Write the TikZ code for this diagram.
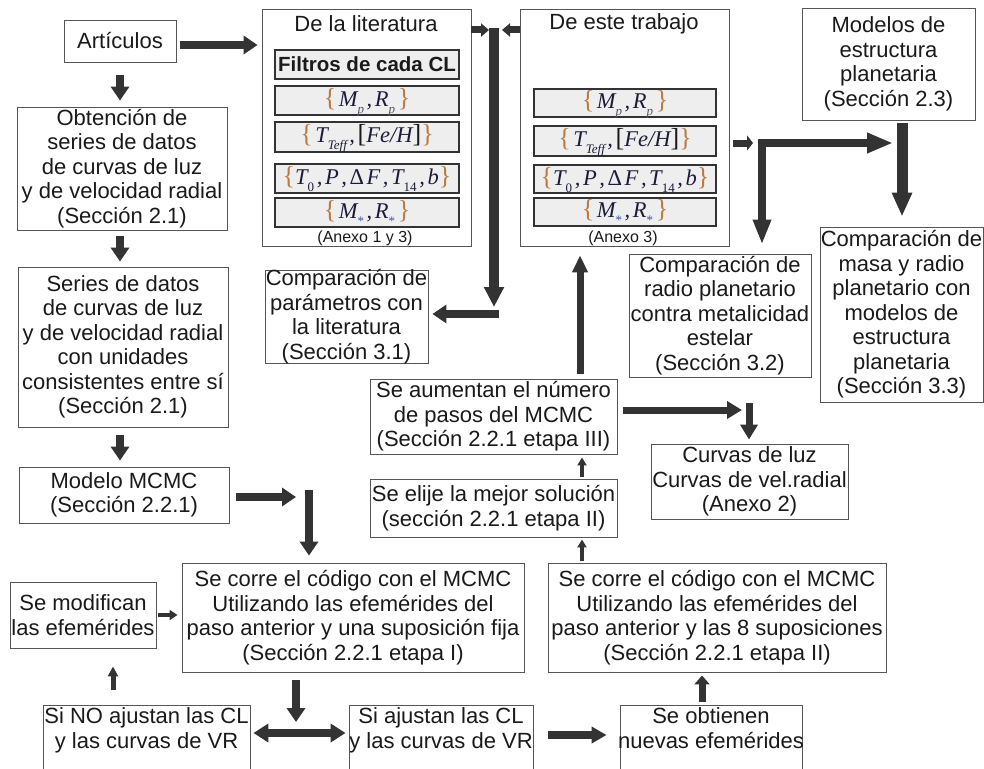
\documentclass[tikz,border=0pt]{standalone}
\usepackage{fontspec}
\setmainfont{Liberation Sans}
\newfontfamily\fser{Liberation Serif}
\usetikzlibrary{arrows.meta}
\definecolor{arrc}{HTML}{333333}
\definecolor{boxc}{HTML}{555555}
\definecolor{txtc}{HTML}{1A1A1A}
\definecolor{bracec}{HTML}{B97C40}
\definecolor{mathc}{HTML}{1C1C38}
\definecolor{subc}{HTML}{555566}
\definecolor{starc}{HTML}{3A55A0}
\definecolor{fillc}{HTML}{EEEEEE}
\newcommand\fl{\smash{\upshape\color{bracec}\fontsize{26}{26}\selectfont\{}}
\newcommand\frr{\smash{\upshape\color{bracec}\fontsize{26}{26}\selectfont\}}}
\newcommand\sqo{\smash{\upshape\color{txtc}\fontsize{26}{26}\selectfont[}}
\newcommand\sqc{\smash{\upshape\color{txtc}\fontsize{26}{26}\selectfont]}}
\newcommand\fsb[1]{\raisebox{-0.32em}[0pt][0pt]{\fontsize{13}{13}\selectfont #1}}
\newcommand\gp{\hspace{2.6pt}}
\newcommand\bx[6]{\node[box, minimum width={(#4)-(#2)}, minimum height={(#5)-(#3)}] (#1) at ({((#2)+(#4))/2},{((#3)+(#5))/2}) {};\node[txt] (#1t) at (#1.center) {#6};}
\newcommand\bxe[5]{\node[box, minimum width={(#4)-(#2)}, minimum height={(#5)-(#3)}] (#1) at ({((#2)+(#4))/2},{((#3)+(#5))/2}) {};}
\newcommand\fb[6]{\node[fbox, minimum width={(#4)-(#2)}, minimum height={(#5)-(#3)}] (#1) at ({((#2)+(#4))/2},{((#3)+(#5))/2}) {#6};}
\tikzset{
  box/.style={draw=boxc, line width=0.9pt, inner sep=0pt},
  txt/.style={text=txtc, align=center, inner sep=0pt, font=\fontsize{22}{24.5}\selectfont},
  fbox/.style={draw=arrc, fill=fillc, line width=1.2pt, inner sep=0pt, text=mathc, font=\fser\itshape\fontsize{22.5}{24}\selectfont},
  arr/.style={draw=arrc, line width=8pt, -{Triangle[length=14pt,width=18pt]}},
  arrw/.style n args={3}{draw=arrc, line width=#1, -{Triangle[length=#2,width=#3]}},
}
\begin{document}
\begin{tikzpicture}[x=1pt,y=-1pt]
\useasboundingbox (0,0) rectangle (984,768);
\clip (0,0) rectangle (984,768);
\fill[white] (0,0) rectangle (984,768);
% left column
\bx{art}{64}{20}{176}{62}{Artículos}
\bx{obt}{17}{107}{227}{230}{Obtención de\\series de datos\\de curvas de luz\\y de velocidad radial\\(Sección 2.1)}
\bx{ser}{18}{267}{228}{427}{Series de datos\\de curvas de luz\\y de velocidad radial\\con unidades\\consistentes entre sí\\(Sección 2.1)}
\bx{mod}{19}{467}{229}{523}{Modelo MCMC\\(Sección 2.2.1)}
\bx{run1}{182}{563}{524}{672}{Se corre el código con el MCMC\\Utilizando las efemérides del\\paso anterior y una suposición fija\\(Sección 2.2.1 etapa I)}
\bx{modif}{10}{582}{156}{648}{Se modifican\\las efemérides}
\bxe{sino}{43}{705}{250}{775}
\node[txt, anchor=north] (sinot) at ([yshift=-3pt]sino.north) {Si NO ajustan las CL\\y las curvas de VR};
\bxe{sisi}{349}{705}{533}{775}
\node[txt, anchor=north] (sisit) at ([yshift=-3pt]sisi.north) {Si ajustan las CL\\y las curvas de VR};
\bxe{obtn}{620}{705}{802}{775}
\node[txt, anchor=north] (obtnt) at ([yshift=-3pt]obtn.north) {Se obtienen\\nuevas efemérides};
\bx{run2}{548}{563}{886}{672}{Se corre el código con el MCMC\\Utilizando las efemérides del\\paso anterior y las 8 suposiciones\\(Sección 2.2.1 etapa II)}
\bx{elij}{370}{479}{617}{537}{Se elije la mejor solución\\(sección 2.2.1 etapa II)}
\bx{aum}{370}{379}{617}{454}{Se aumentan el número\\de pasos del MCMC\\(Sección 2.2.1 etapa III)}
\bx{curv}{651}{444}{848}{519}{Curvas de luz\\Curvas de vel.radial\\(Anexo 2)}
\bx{cpar}{265}{270}{428}{363}{Comparación de\\parámetros con\\la literatura\\(Sección 3.1)}
\bx{mode}{802}{8}{975}{120}{Modelos de\\estructura\\planetaria\\(Sección 2.3)}
\bx{cmas}{820}{227}{983}{402}{Comparación de\\masa y radio\\planetario con\\modelos de\\estructura\\planetaria\\(Sección 3.3)}
\bx{crad}{629}{254}{811}{377}{Comparación de\\radio planetario\\contra metalicidad\\estelar\\(Sección 3.2)}
% literature box
\bxe{lit}{262}{9}{471}{246}
\node[txt] (litt) at (366,24) {De la literatura};
\node[fbox, minimum width=184pt, minimum height=29pt, text=txtc, font=\bfseries\fontsize{20.5}{22}\selectfont] (litF) at (367,64.5) {Filtros de cada CL};
\fb{litMp}{275}{86}{459}{115}{\fl\gp M\fsb{\color{subc}p}\gp,\gp R\fsb{\color{subc}p}\gp\frr}
\fb{litT}{275}{122}{459}{152}{\fl\gp T\fsb{Teff}\gp,\gp\sqo Fe/H\sqc\frr}
\fb{litE}{275}{164}{459}{193}{\fl T\fsb{\upshape 0}\gp,\gp P\gp,\gp{\upshape Δ}\gp F\gp,\gp T\fsb{\upshape 14}\gp,\gp b\frr}
\fb{litMs}{275}{198}{459}{227}{\fl\gp M\fsb{\upshape\color{starc}*}\gp,\gp R\fsb{\upshape\color{starc}*}\gp\frr}
\node[txt, font=\fontsize{16}{16}\selectfont] (litA) at (365,238) {(Anexo 1 y 3)};
% this work box
\bxe{este}{520}{9}{729}{246}
\node[txt] (estet) at (624,24) {De este trabajo};
\fb{esteMp}{534}{89}{716}{117}{\fl\gp M\fsb{\color{subc}p}\gp,\gp R\fsb{\color{subc}p}\gp\frr}
\fb{esteT}{534}{126}{716}{156}{\fl\gp T\fsb{Teff}\gp,\gp\sqo Fe/H\sqc\frr}
\fb{esteE}{534}{165}{716}{193}{\fl T\fsb{\upshape 0}\gp,\gp P\gp,\gp{\upshape Δ}\gp F\gp,\gp T\fsb{\upshape 14}\gp,\gp b\frr}
\fb{esteMs}{534}{198}{716}{226}{\fl\gp M\fsb{\upshape\color{starc}*}\gp,\gp R\fsb{\upshape\color{starc}*}\gp\frr}
\node[txt, font=\fontsize{16}{16}\selectfont] (esteA) at (623,238) {(Anexo 3)};
% junction coordinates
\coordinate (j1) at (309,497);
\coordinate (j2) at (296,733);
\coordinate (j3) at (749,410);
\coordinate (jb) at (494,30);
\coordinate (jc) at (494,314);
\coordinate (jd) at (762,143);
\coordinate (je) at (902,143);
\coordinate (xa) at (582,0);
\coordinate (xb) at (580,0);
% arrows left column
\draw[arr, shorten <=13pt, shorten >=6pt] (art.south) -- (art.south |- obt.north);
\draw[arr, shorten <=4pt, shorten >=4pt] ([yshift=-4pt]art.east) -- ([yshift=-4pt]art.east -| lit.west);
\draw[arr, shorten <=6pt, shorten >=5pt] (art.south |- obt.south) -- (art.south |- ser.north);
\draw[arr, shorten <=8pt, shorten >=6pt] (art.south |- ser.south) -- (art.south |- mod.north);
\draw[arr, shorten <=7pt, shorten >=13pt] (mod.east |- j1) -- (j1);
\draw[arr, shorten >=7pt] ([yshift=7pt]j1) -- (j1 |- run1.north);
\draw[arrw={4pt}{8pt}{10pt}, shorten <=2pt, shorten >=4pt] (modif.east) -- (run1.west |- modif.east);
\draw[arrw={5pt}{10pt}{10pt}, shorten <=15pt, shorten >=18pt] ([xshift=-33.5pt]sino.north) -- ([xshift=-33.5pt]sino.north |- modif.south);
\draw[arr, shorten <=8pt, shorten >=11pt] (run1.south -| j2) -- (j2);
\draw[draw=arrc, line width=8pt, {Triangle[length=15pt,width=18pt]}-{Triangle[length=15pt,width=18pt]}, shorten <=3pt, shorten >=3pt] (sino.east |- j2) -- (sisi.west |- j2);
\draw[arrw={8pt}{15pt}{16pt}, shorten <=15pt, shorten >=13pt] ([yshift=5pt]sisi.east) -- ([yshift=5pt]sisi.east -| obtn.west);
% right flow
\draw[arrw={7pt}{9pt}{15pt}, shorten <=3pt, shorten >=3pt] ([xshift=-9pt]obtn.north) -- ([xshift=-9pt]obtn.north |- run2.south);
\draw[arrw={4pt}{8pt}{9pt}, shorten <=2pt, shorten >=2pt] (run2.north -| xa) -- (elij.south -| xa);
\draw[arrw={4pt}{8pt}{9pt}, shorten <=2pt, shorten >=3pt] (elij.north -| xa) -- (aum.south -| xa);
\draw[arrw={7pt}{17pt}{15pt}, shorten <=5pt, shorten >=9pt] (aum.north -| xb) -- (este.south -| xb);
\draw[arrw={7pt}{15pt}{17pt}, shorten <=6pt, shorten >=7pt] (aum.east |- j3) -- (j3);
\draw[arrw={7pt}{15pt}{17pt}, shorten >=4pt] ([yshift=7pt]j3) -- (j3 |- curv.north);
% literature / this work to comparison
\draw[arrw={7pt}{8pt}{13pt}, shorten >=5pt] (lit.east |- jb) -- (jb);
\draw[arrw={7pt}{8pt}{13pt}, shorten >=8pt] (este.west |- jb) -- (jb);
\draw[arrw={10pt}{20pt}{19pt}] ([yshift=2pt]jb) -- ([yshift=7pt]jc);
\draw[arr, shorten >=4pt] ([xshift=5pt]jc) -- (jc -| cpar.east);
% this work to right
\draw[arrw={7pt}{6pt}{15pt}, shorten <=4pt, shorten >=9pt] (este.east |- jd) -- (jd);
\draw[arrw={8pt}{25pt}{17pt}, shorten >=9pt] ([yshift=3pt]jd) -- (jd |- crad.north);
\draw[arrw={8pt}{26pt}{19pt}, shorten >=9pt] ([xshift=-4pt]jd) -- (je);
\draw[arrw={11pt}{24pt}{19pt}, shorten <=3pt, shorten >=10pt] (mode.south -| je) -- (cmas.north -| je);
\end{tikzpicture}
\end{document}
